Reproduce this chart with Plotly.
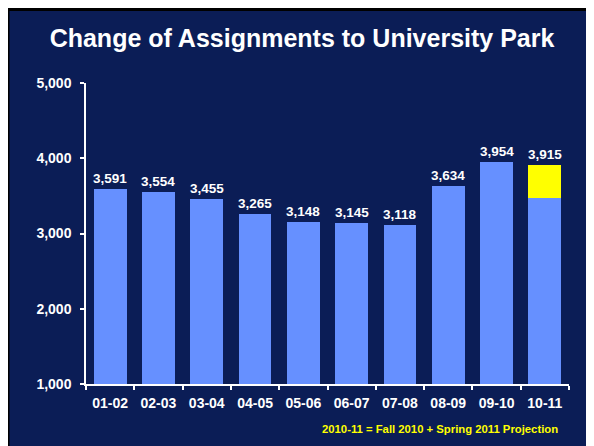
import plotly.graph_objects as go

categories = ["01-02", "02-03", "03-04", "04-05", "05-06", "06-07", "07-08", "08-09", "09-10", "10-11"]
assignments = [3591, 3554, 3455, 3265, 3148, 3145, 3118, 3634, 3954, 3475]
projection = [None, None, None, None, None, None, None, None, None, 440]
totals = [3591, 3554, 3455, 3265, 3148, 3145, 3118, 3634, 3954, 3915]
y_ticks = [1000, 2000, 3000, 4000, 5000]

# page has an 8px body margin; figure sits at (8, 8) inside the 594x446 window
OFF = 8
W, H = 594 - OFF, 446 - OFF
ML, MR, MT, MB = 78, 25, 75, 62
PW, PH = W - ML - MR, H - MT - MB

def px(x):  # window pixel -> paper x
    return (x - OFF - ML) / PW

def py(y):  # window pixel -> paper y
    return (H - MB - (y - OFF)) / PH

NAVY = "#0B1D56"
BLUE = "#6690FF"
FONT = "Liberation Sans, Arial, sans-serif"

fig = go.Figure()
fig.add_trace(go.Bar(x=categories, y=assignments, marker=dict(color=BLUE, line=dict(width=0)), width=0.68))
fig.add_trace(go.Bar(x=categories, y=projection, marker=dict(color="#FFFF00", line=dict(width=0)), width=0.68))

annotations = []
for c, t in zip(categories, totals):
    annotations.append(dict(x=c, y=t, text=f"{t:,}", showarrow=False, yanchor="bottom", yshift=1,
                            font=dict(family=FONT, size=13.5, color="white", weight="bold")))
annotations.append(dict(xref="paper", yref="paper", x=px(440), y=py(429), xanchor="center", yanchor="middle",
                        text="2010-11 = Fall 2010 + Spring 2011 Projection", showarrow=False,
                        font=dict(family=FONT, size=11.3, color="#FFFF00", weight="bold")))

shapes = [
    dict(type="rect", xref="paper", yref="paper", x0=px(8), x1=px(594), y0=py(8), y1=py(11),
         fillcolor="black", line=dict(width=0), layer="above"),
    dict(type="rect", xref="paper", yref="paper", x0=px(8), x1=px(9.5), y0=py(8), y1=py(446),
         fillcolor="black", line=dict(width=0), layer="above"),
]

fig.update_layout(
    width=W, height=H,
    margin=dict(l=ML, r=MR, t=MT, b=MB, pad=0),
    paper_bgcolor=NAVY, plot_bgcolor=NAVY,
    barmode="stack", showlegend=False,
    title=dict(text="Change of Assignments to University Park", x=(302 - OFF) / W, xanchor="center",
               y=1 - (38 - OFF) / H, yanchor="middle", yref="container",
               font=dict(family=FONT, size=25, color="white", weight="bold")),
    xaxis=dict(type="category", showline=True, linecolor="white", linewidth=1.5, ticks="outside",
               tickson="boundaries", ticklen=4, tickcolor="white", tickwidth=1.5, showgrid=False,
               ticklabelstandoff=5,
               tickfont=dict(family=FONT, size=14, color="white", weight="bold")),
    yaxis=dict(range=[1000, 5000], tickvals=y_ticks, tickformat=",", showline=True, linecolor="white",
               linewidth=1.5, ticks="outside", ticklen=4, tickcolor="white", tickwidth=1.5, showgrid=False,
               zeroline=False, ticklabelstandoff=6,
               tickfont=dict(family=FONT, size=14, color="white", weight="bold")),
    annotations=annotations,
    shapes=shapes,
)

fig.write_html("out.html")
